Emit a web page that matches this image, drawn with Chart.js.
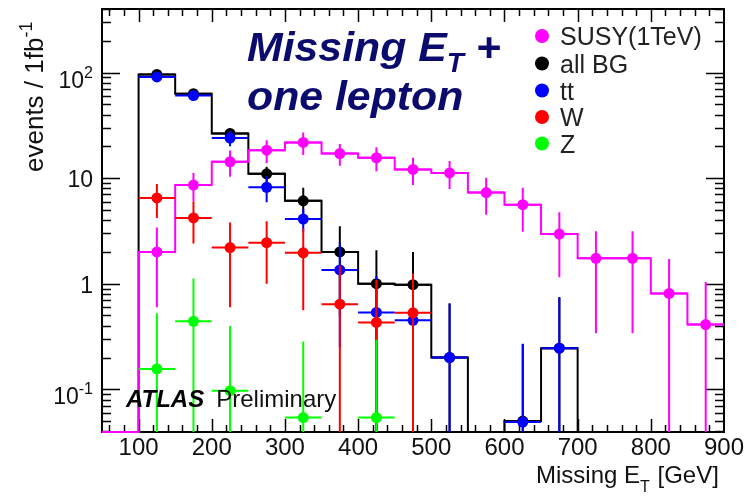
<!DOCTYPE html>
<html>
<head>
<meta charset="utf-8">
<script src="https://cdn.jsdelivr.net/npm/chart.js@4.4.1/dist/chart.umd.min.js"></script>
<style>
  html, body { margin: 0; background: #fff; }
  #wrap { width: 747px; height: 496px; position: relative; }
</style>
</head>
<body>
<div id="wrap"><canvas id="met"></canvas></div>
<script>
// Missing ET, one lepton channel, events per 1 fb^-1, 50 GeV bins
const binEdges   = [50, 100, 150, 200, 250, 300, 350, 400, 450, 500, 550, 600, 650, 700, 750, 800, 850, 900];
const binCenters = [75, 125, 175, 225, 275, 325, 375, 425, 475, 525, 575, 625, 675, 725, 775, 825, 875];

const susy     = [0, 2.0, 8.6, 14.3, 18.4, 21.8, 17.1, 15.6, 12.1, 11.2, 7.3, 5.6, 2.95, 1.74, 1.74, 0.81, 0.41];
const susyErr  = [0, 1.4, 2.6, 4.0, 4.5, 5.2, 4.0, 4.0, 3.5, 3.3, 2.8, 2.5, 1.8, 1.4, 1.4, 0.9, 0.63];
const allBG    = [0, 96, 63, 26.5, 11, 6.1, 2.0, 1.0, 0.98, 0.2, 0, 0.05, 0.245, 0, 0, 0, 0];
const allBGErr = [0, 4, 3, 3, 1.8, 2.0, 1.5, 1.08, 1.02, 0.45, 0, 0.22, 0.5, 0, 0, 0, 0];
const ttbar    = [0, 91, 60.5, 24, 8.2, 4.1, 1.35, 0.535, 0.45, 0.2, 0, 0.049, 0.245, 0, 0, 0, 0];
const ttbarErr = [0, 3.5, 3, 4, 2.3, 1.0, 1.1, 0.65, 0.45, 0.45, 0, 0.22, 0.5, 0, 0, 0, 0];
const wjets    = [0, 6.5, 4.2, 2.2, 2.45, 1.96, 0.64, 0.43, 0.53, 0, 0, 0, 0, 0, 0, 0, 0];
const wjetsErr = [0, 2.3, 1.8, 1.6, 1.45, 1.4, 0.85, 0.66, 0.72, 0, 0, 0, 0, 0, 0, 0, 0];
const zjets    = [0, 0.156, 0.44, 0.097, 0, 0.054, 0, 0.054, 0, 0, 0, 0, 0, 0, 0, 0, 0];
const zjetsErr = [0, 0.37, 0.68, 0.3, 0, 0.23, 0, 0.24, 0, 0, 0, 0, 0, 0, 0, 0, 0];

const xTicks = [100, 200, 300, 400, 500, 600, 700, 800, 900];
const yTicks = [0.1, 1, 10, 100];
const yTickText = [['10', '-1'], ['1', ''], ['10', ''], ['10', '2']];

const legendItems = [
  { label: 'SUSY(1TeV)', color: '#ff00ff' },
  { label: 'all BG', color: '#000000' },
  { label: 'tt', color: '#0000ff' },
  { label: 'W', color: '#ff0000' },
  { label: 'Z', color: '#00ff00' }
];

const yFloor = 0.0394;
const yCeil = 400;
const halfBin = 25;
const FONT = '"Liberation Sans", Arial, Helvetica, sans-serif';

// zero bins sit on the bottom of the log axis, like ROOT does
function stepPoints(values) {
  const pts = values.map((v, i) => ({ x: binEdges[i], y: v > 0 ? v : yFloor }));
  pts.push({ x: binEdges[binEdges.length - 1], y: pts[pts.length - 1].y });
  return pts;
}

function markerPoints(values, errors) {
  const pts = [];
  values.forEach((v, i) => {
    if (v > 0) pts.push({ x: binCenters[i], y: v, err: errors[i] });
  });
  return pts;
}

// each bin value holds from its lower edge to the next edge
function stepSet(values, color, order) {
  return {
    data: stepPoints(values), showLine: true, stepped: 'before',
    borderColor: color, borderWidth: 2, pointRadius: 0, order: order,
    clip: { left: 0, top: 0, right: 0, bottom: 2 }
  };
}

function markerSet(values, errors, color, order) {
  return {
    data: markerPoints(values, errors), showLine: false, errorBars: true,
    backgroundColor: color, borderColor: color, borderWidth: 0,
    pointRadius: 5.5, pointHoverRadius: 5.5, order: order
  };
}

// text with an optional horizontal stretch
function text(ctx, str, x, y, font, color, sx) {
  ctx.save();
  ctx.font = font;
  ctx.fillStyle = color;
  ctx.translate(x, y);
  ctx.scale(sx || 1, 1);
  ctx.fillText(str, 0, 0);
  const w = ctx.measureText(str).width * (sx || 1);
  ctx.restore();
  return w;
}

const errorBars = {
  id: 'errorBars',
  beforeDatasetDraw(chart, args) {
    const ds = chart.data.datasets[args.index];
    if (!ds.errorBars) return;
    const { ctx, chartArea: a, scales: { x, y } } = chart;
    ctx.save();
    ctx.beginPath();
    ctx.rect(a.left, a.top, a.right - a.left, a.bottom - a.top);
    ctx.clip();
    ctx.strokeStyle = ds.backgroundColor;
    ctx.lineWidth = 2;
    ds.data.forEach(p => {
      const px = x.getPixelForValue(p.x);
      const py = y.getPixelForValue(p.y);
      const lo = p.y - p.err > 0 ? p.y - p.err : yFloor / 2;
      ctx.beginPath();
      ctx.moveTo(x.getPixelForValue(p.x - halfBin), py);
      ctx.lineTo(x.getPixelForValue(p.x + halfBin), py);
      ctx.moveTo(px, y.getPixelForValue(p.y + p.err));
      ctx.lineTo(px, y.getPixelForValue(lo));
      ctx.stroke();
    });
    ctx.restore();
  }
};

// frame and inward ticks on all four sides
const frame = {
  id: 'frame',
  beforeDatasetsDraw(chart) {
    const { ctx, chartArea: a, scales: { x, y } } = chart;
    ctx.save();
    ctx.strokeStyle = '#000';
    ctx.lineWidth = 1.5;
    ctx.beginPath();
    for (let v = 60; v < 900; v += 20) {
      const px = Math.round(x.getPixelForValue(v)) + 0.5;
      const len = v % 100 === 0 ? 13 : 7;
      ctx.moveTo(px, a.bottom); ctx.lineTo(px, a.bottom - len);
      ctx.moveTo(px, a.top); ctx.lineTo(px, a.top + len);
    }
    for (let n = -2; n <= 2; n++) {
      for (let k = 1; k <= 9; k++) {
        const v = k * Math.pow(10, n);
        if (v < yFloor || v > yCeil) continue;
        const py = Math.round(y.getPixelForValue(v)) + 0.5;
        const len = k === 1 ? 18 : 9;
        ctx.moveTo(a.left, py); ctx.lineTo(a.left + len, py);
        ctx.moveTo(a.right, py); ctx.lineTo(a.right - len, py);
      }
    }
    ctx.stroke();
    ctx.lineWidth = 2;
    ctx.strokeRect(a.left, a.top, a.right - a.left, a.bottom - a.top);
    ctx.restore();
  }
};

const annotations = {
  id: 'annotations',
  afterDatasetsDraw(chart) {
    const { ctx, scales: { x, y } } = chart;
    ctx.save();
    ctx.textBaseline = 'alphabetic';

    // x tick labels
    ctx.textAlign = 'center';
    ctx.font = '24px ' + FONT;
    ctx.fillStyle = '#111';
    xTicks.forEach(v => ctx.fillText(String(v), x.getPixelForValue(v), 455));
    ctx.textAlign = 'left';

    // y tick labels, right aligned, with exponents
    yTicks.forEach((v, i) => {
      const [base, sup] = yTickText[i];
      const py = y.getPixelForValue(v);
      ctx.font = '23px ' + FONT;
      const wb = ctx.measureText(base).width;
      ctx.font = '16px ' + FONT;
      const ws = sup ? ctx.measureText(sup).width : 0;
      const x0 = 93 - wb - ws;
      const by = py + (sup ? 15 : 9);
      text(ctx, base, x0, by, '23px ' + FONT, '#111');
      if (sup) text(ctx, sup, x0 + wb, by - 10, '16px ' + FONT, '#111');
    });

    // axis titles
    let w = text(ctx, 'Missing E', 536, 483, '24px ' + FONT, '#111');
    w += text(ctx, 'T', 536 + w, 492, '16px ' + FONT, '#111');
    text(ctx, ' [GeV]', 536 + w + 1, 483, '24px ' + FONT, '#111');

    ctx.save();
    ctx.translate(43, 172);
    ctx.rotate(-Math.PI / 2);
    const wy = text(ctx, 'events / 1fb', 0, 0, '26px ' + FONT, '#111');
    text(ctx, '-1', wy, -11, '18px ' + FONT, '#111');
    ctx.restore();

    // channel title
    const navy = '#0b0b6e';
    let wt = text(ctx, 'Missing E', 247, 61, 'italic bold 40px ' + FONT, navy, 1.07);
    wt += text(ctx, 'T', 247 + wt, 72, 'italic bold 28px ' + FONT, navy, 1.0);
    text(ctx, ' +', 247 + wt, 61, 'italic bold 40px ' + FONT, navy, 1.07);
    text(ctx, 'one lepton', 247, 110, 'italic bold 40px ' + FONT, navy, 1.07);

    // experiment label
    const wa = text(ctx, 'ATLAS', 126, 407, 'italic bold 24px ' + FONT, '#000');
    text(ctx, 'Preliminary', 126 + wa + 12, 407, '24px ' + FONT, '#111');

    // legend
    const ly = [36, 63.5, 90.5, 117, 143.5];
    legendItems.forEach((item, i) => {
      ctx.beginPath();
      ctx.fillStyle = item.color;
      ctx.arc(542, ly[i], 7, 0, Math.PI * 2);
      ctx.fill();
      text(ctx, item.label, 560, ly[i] + 9, '25px ' + FONT, '#222');
    });
    ctx.restore();
  }
};

new Chart(document.getElementById('met'), {
  type: 'scatter',
  data: {
    datasets: [
      stepSet(allBG, '#000000', 10),
      stepSet(susy, '#ff00ff', 9),
      markerSet(allBG, allBGErr, '#000000', 8),
      markerSet(ttbar, ttbarErr, '#0000ff', 7),
      markerSet(wjets, wjetsErr, '#ff0000', 6),
      markerSet(zjets, zjetsErr, '#00ff00', 5),
      markerSet(susy, susyErr, '#ff00ff', 4)
    ]
  },
  options: {
    responsive: true,
    maintainAspectRatio: false,
    animation: false,
    layout: { padding: { left: 102, top: 9, right: 23, bottom: 64 } },
    plugins: { legend: { display: false }, tooltip: { enabled: false } },
    scales: {
      x: { type: 'linear', min: 50, max: 900, display: false },
      y: { type: 'logarithmic', min: yFloor, max: yCeil, display: false }
    }
  },
  plugins: [frame, errorBars, annotations]
});
</script>
</body>
</html>
